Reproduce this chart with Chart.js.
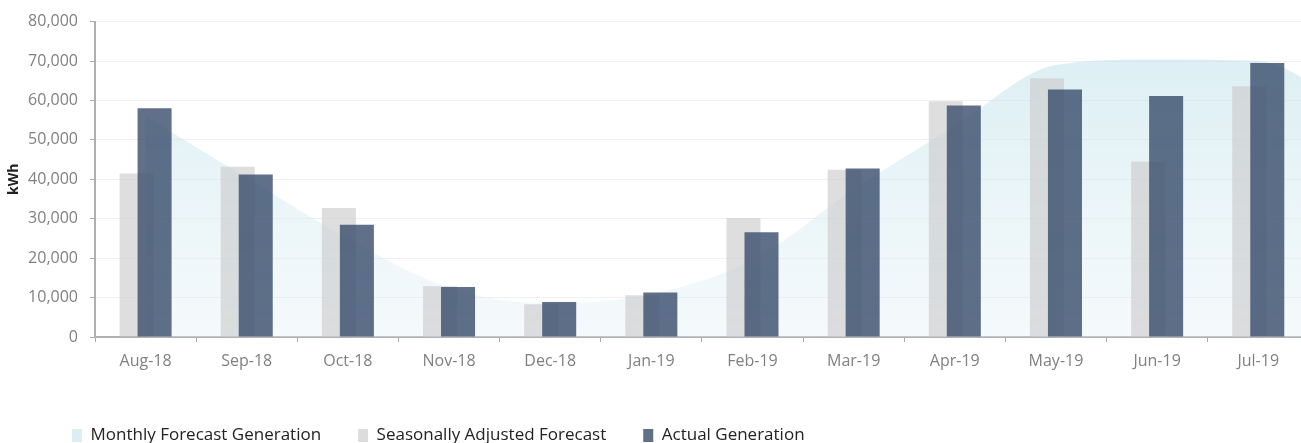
<!DOCTYPE html>
<html>
<head>
<meta charset="utf-8">
<script src="https://cdn.jsdelivr.net/npm/chart.js@4.4.1/dist/chart.umd.min.js"></script>
<style>
  html, body { margin: 0; padding: 0; overflow: hidden; background: #fff; }
</style>
</head>
<body>
<canvas id="grafico" width="1420" height="455"></canvas>
<script>
// months shown on the x axis (the last one sits off the right edge of the picture)
const months = ['Aug-18', 'Sep-18', 'Oct-18', 'Nov-18', 'Dec-18', 'Jan-19',
                'Feb-19', 'Mar-19', 'Apr-19', 'May-19', 'Jun-19', 'Jul-19', 'Aug-19'];

// kWh values
const monthlyForecast   = [56000, 40300, 25000, 12500, 8500, 10900, 19500, 37400, 53500, 69000, 70400, 70000, 56000];
const seasonalForecast  = [41500, 43200, 32700, 12900, 8300, 10600, 30200, 42400, 59800, 65600, 44500, 63600, null];
const actualGeneration  = [58000, 41200, 28500, 12700, 8900, 11300, 26600, 42750, 58750, 62800, 61100, 69500, null];

const yMin = 0;
const yMax = 80000;
const yStep = 10000;

const ctx = document.getElementById('grafico');
const tickFont = { family: 'Open Sans', size: 16 };
const ACTUAL = 2;

// fade from light blue at the top of the plot to almost white at the axis
function areaFill(context) {
    const area = context.chart.chartArea;
    if (!area) return 'rgba(200,228,236,0.5)';
    const g = context.chart.ctx.createLinearGradient(0, area.top, 0, area.bottom);
    g.addColorStop(0, 'rgba(185,222,233,0.55)');
    g.addColorStop(1, 'rgba(225,240,245,0.35)');
    return g;
}

// the legend in the picture starts further in than chart.js puts it
const legendShift = {
    id: 'legendShift',
    afterLayout(chart) {
        const lg = chart.legend;
        lg.left += 35;
        lg.right += 35;
    }
};

// actual bars sit right of the forecast bars but are painted over them
let drawingActual = false;
const actualOnTop = {
    id: 'actualOnTop',
    beforeDatasetDraw(chart, args) {
        if (args.index === ACTUAL && !drawingActual) return false;
    },
    afterDatasetsDraw(chart) {
        drawingActual = true;
        chart.ctx.save();
        chart.getDatasetMeta(ACTUAL).controller.draw();
        chart.ctx.restore();
        drawingActual = false;
    }
};

let chart = new Chart(ctx, {
    type: 'bar',
    data: {
        labels: months,
        datasets: [
            {
                type: 'line',
                label: 'Monthly Forecast Generation',
                data: monthlyForecast,
                fill: 'origin',
                backgroundColor: areaFill,
                borderColor: 'rgba(0,0,0,0)',
                borderWidth: 0,
                pointRadius: 0,
                cubicInterpolationMode: 'monotone',
                order: 3
            },
            {
                label: 'Seasonally Adjusted Forecast',
                data: seasonalForecast,
                backgroundColor: 'rgba(205,205,205,0.65)',
                categoryPercentage: 0.356,
                barPercentage: 1.89,
                order: 1
            },
            {
                label: 'Actual Generation',
                data: actualGeneration,
                backgroundColor: 'rgba(60,80,110,0.82)',
                categoryPercentage: 0.356,
                barPercentage: 1.89,
                order: 2
            }
        ]
    },
    options: {
        responsive: false,
        animation: false,
        layout: { padding: { top: 20, right: 10, bottom: 1, left: 0 } },
        plugins: {
            tooltip: { enabled: false },
            legend: {
                position: 'bottom',
                align: 'start',
                labels: {
                    font: { family: 'Open Sans', size: 17 },
                    color: '#222',
                    boxWidth: 10,
                    boxHeight: 13,
                    padding: 37,
                    sort: (a, b) => a.datasetIndex - b.datasetIndex,
                    generateLabels(chart) {
                        const items = Chart.defaults.plugins.legend.labels.generateLabels(chart);
                        const fills = ['#dcedf3', '#dcdcdc', '#5f7088'];
                        items.forEach(it => {
                            it.fillStyle = fills[it.datasetIndex];
                            it.lineWidth = 0;
                            it.strokeStyle = 'rgba(0,0,0,0)';
                        });
                        return items;
                    }
                }
            }
        },
        scales: {
            x: {
                grid: { drawOnChartArea: false, tickLength: 5, tickColor: '#aaa' },
                border: { color: '#b0b0b0', width: 2 },
                ticks: { font: tickFont, color: '#808080', padding: 10, maxRotation: 0, autoSkip: false },
                afterFit(scale) { scale.height = 53; }
            },
            y: {
                min: yMin,
                max: yMax,
                grid: { color: '#f0f0f0', tickLength: 5, tickColor: '#aaa' },
                border: { color: '#b0b0b0', width: 2 },
                ticks: {
                    stepSize: yStep,
                    font: tickFont,
                    color: '#808080',
                    padding: 12,
                    callback: v => v.toLocaleString('en-US')
                },
                title: {
                    display: true,
                    text: 'kWh',
                    color: '#222',
                    font: { family: 'Open Sans', size: 14, weight: 'bold' },
                    padding: { top: 6, bottom: 0 }
                },
                afterFit(scale) { scale.width = 95; }
            }
        }
    },
    plugins: [legendShift, actualOnTop]
});
</script>
</body>
</html>
